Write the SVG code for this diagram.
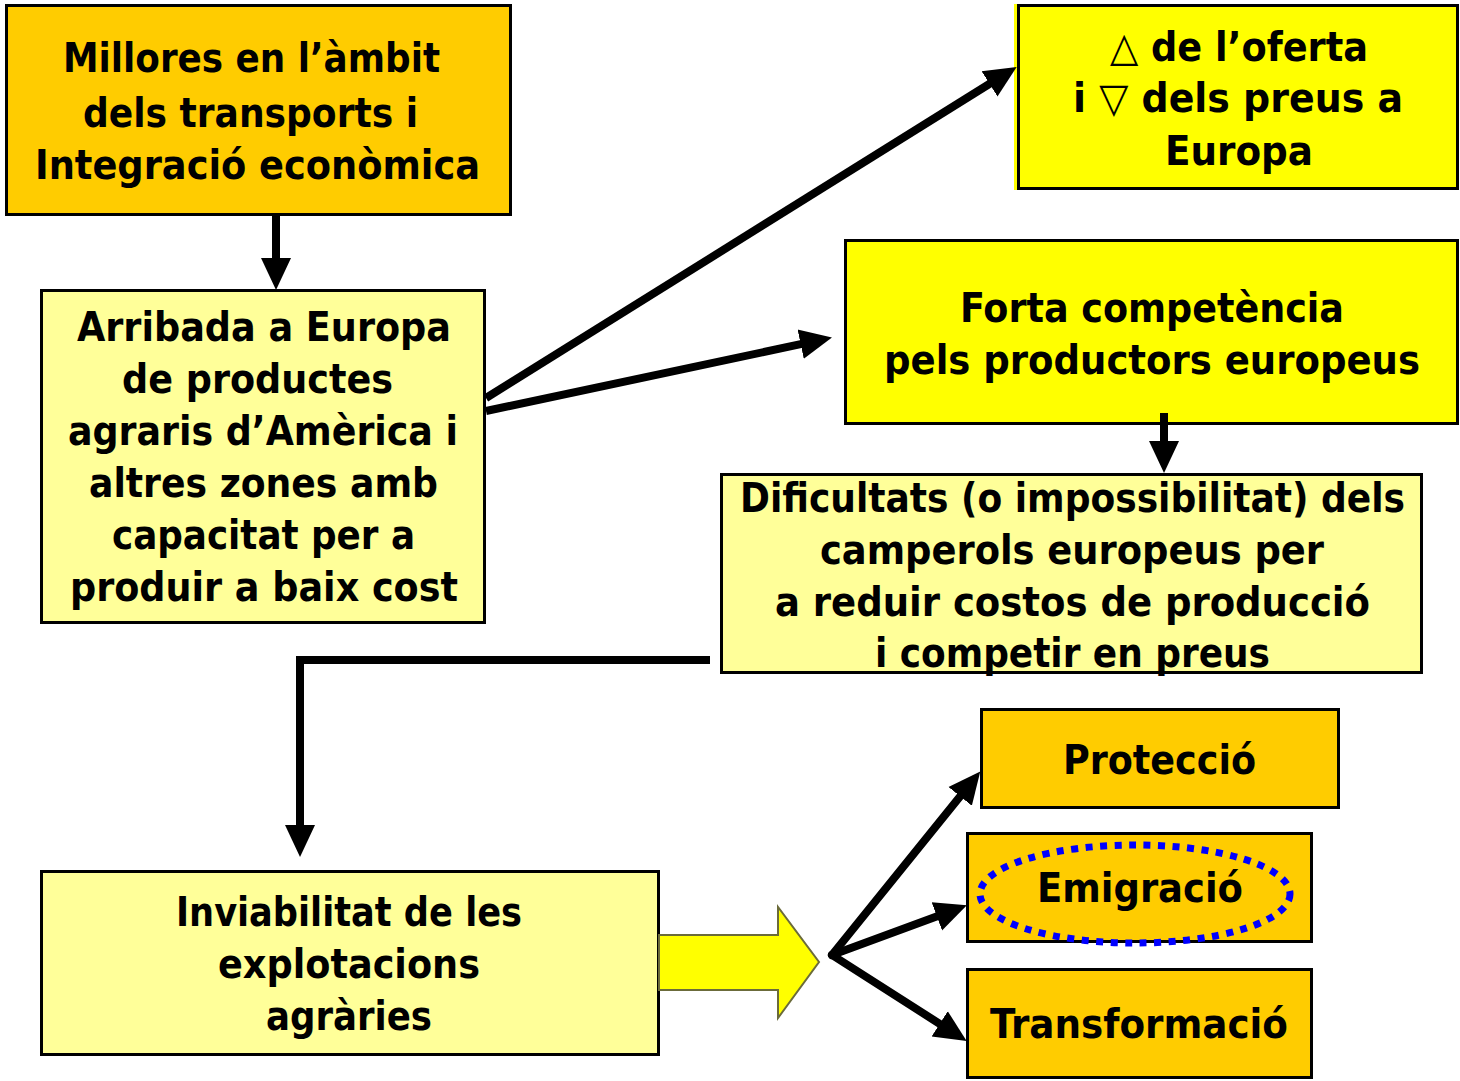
<svg xmlns="http://www.w3.org/2000/svg" width="1460" height="1081" viewBox="0 0 1460 1081">
<style>
.box{stroke:#000;stroke-width:3}
.orange{fill:#FFCC00}
.yellow{fill:#FFFF00}
.pale{fill:#FFFF99}
.t{font-family:"DejaVu Sans Condensed","DejaVu Sans","Verdana",sans-serif;font-stretch:condensed;font-weight:bold;font-size:41px;fill:#000;text-anchor:middle}
.conn{stroke:#000;fill:none;stroke-width:8}
</style>
<defs>
<marker id="ah" markerUnits="userSpaceOnUse" markerWidth="32" markerHeight="32" refX="12" refY="16" orient="auto" viewBox="0 0 32 32">
<path d="M0,1 L32,16 L0,31 z" fill="#000"/>
</marker>
</defs>
<rect width="1460" height="1081" fill="#fff"/>

<g id="n-millores">
<rect class="box orange" x="6.5" y="5.5" width="504" height="209"/>
<text class="t" x="251.5" y="72" textLength="377" lengthAdjust="spacingAndGlyphs">Millores en l’àmbit</text>
<text class="t" x="250.5" y="127" textLength="335" lengthAdjust="spacingAndGlyphs">dels transports i</text>
<text class="t" x="257.5" y="179" textLength="445" lengthAdjust="spacingAndGlyphs">Integració econòmica</text>
</g>

<g id="n-arribada">
<rect class="box pale" x="41.5" y="290.5" width="443" height="332"/>
<text class="t" x="264" y="341" textLength="374" lengthAdjust="spacingAndGlyphs">Arribada a Europa</text>
<text class="t" x="257.5" y="393" textLength="271" lengthAdjust="spacingAndGlyphs">de productes</text>
<text class="t" x="263" y="445" textLength="390" lengthAdjust="spacingAndGlyphs">agraris d’Amèrica i</text>
<text class="t" x="263.5" y="497" textLength="349" lengthAdjust="spacingAndGlyphs">altres zones amb</text>
<text class="t" x="263.5" y="549" textLength="303" lengthAdjust="spacingAndGlyphs">capacitat per a</text>
<text class="t" x="264" y="601" textLength="388" lengthAdjust="spacingAndGlyphs">produir a baix cost</text>
</g>

<g id="n-oferta">
<rect x="1014" y="4" width="4" height="186" fill="#FFFF00"/>
<rect class="box yellow" x="1018.5" y="5.5" width="439" height="183"/>
<text class="t" x="1239" y="61" textLength="258" lengthAdjust="spacingAndGlyphs">△ de l’oferta</text>
<text class="t" x="1238" y="112" textLength="330" lengthAdjust="spacingAndGlyphs">i ▽ dels preus a</text>
<text class="t" x="1239" y="165" textLength="148" lengthAdjust="spacingAndGlyphs">Europa</text>
</g>

<g id="n-competencia">
<rect class="box yellow" x="845.5" y="240.5" width="612" height="183"/>
<text class="t" x="1152" y="322" textLength="384" lengthAdjust="spacingAndGlyphs">Forta competència</text>
<text class="t" x="1152" y="374" textLength="536" lengthAdjust="spacingAndGlyphs">pels productors europeus</text>
</g>

<g id="n-dificultats">
<rect class="box pale" x="721.5" y="474.5" width="700" height="198"/>
<text class="t" x="1072.5" y="512" textLength="665" lengthAdjust="spacingAndGlyphs">Dificultats (o impossibilitat) dels</text>
<text class="t" x="1072" y="564" textLength="504" lengthAdjust="spacingAndGlyphs">camperols europeus per</text>
<text class="t" x="1072.5" y="616" textLength="595" lengthAdjust="spacingAndGlyphs">a reduir costos de producció</text>
<text class="t" x="1072.5" y="667" textLength="395" lengthAdjust="spacingAndGlyphs">i competir en preus</text>
</g>

<g id="n-inviabilitat">
<rect class="box pale" x="41.5" y="871.5" width="617" height="183"/>
<text class="t" x="349" y="926" textLength="346" lengthAdjust="spacingAndGlyphs">Inviabilitat de les</text>
<text class="t" x="349" y="978" textLength="262" lengthAdjust="spacingAndGlyphs">explotacions</text>
<text class="t" x="349" y="1030" textLength="166" lengthAdjust="spacingAndGlyphs">agràries</text>
</g>

<g id="n-proteccio">
<rect class="box orange" x="981.5" y="709.5" width="357" height="98"/>
<text class="t" x="1159.5" y="774" textLength="193" lengthAdjust="spacingAndGlyphs">Protecció</text>
</g>

<g id="n-emigracio">
<rect class="box orange" x="967.5" y="833.5" width="344" height="108"/>
<ellipse cx="1135" cy="894" rx="155" ry="49" fill="none" stroke="#0000FF" stroke-width="7" stroke-dasharray="7 7.5"/>
<text class="t" x="1140" y="902" textLength="206" lengthAdjust="spacingAndGlyphs">Emigració</text>
</g>

<g id="n-transformacio">
<rect class="box orange" x="967.5" y="969.5" width="344" height="108"/>
<text class="t" x="1139" y="1038" textLength="298" lengthAdjust="spacingAndGlyphs">Transformació</text>
</g>

<g id="connectors">
<line class="conn" x1="276" y1="215" x2="276" y2="270" stroke-width="9" marker-end="url(#ah)"/>
<line class="conn" x1="486" y1="398" x2="999.7" y2="77.5" stroke-width="7" marker-end="url(#ah)"/>
<line class="conn" x1="486" y1="411" x2="812.4" y2="341.7" stroke-width="7" marker-end="url(#ah)"/>
<line class="conn" x1="1164" y1="413" x2="1164" y2="453" stroke-width="9" marker-end="url(#ah)"/>
<path class="conn" d="M710,660 H300 V837" stroke-width="10" marker-end="url(#ah)"/>
<polygon points="659,935 778,935 778,907 819,962 778,1018 778,990 659,990" fill="#FFFF00" stroke="#6b6b3a" stroke-width="2"/>
<line class="conn" x1="832" y1="955" x2="967.7" y2="787" stroke-width="8" stroke-linecap="round" marker-end="url(#ah)"/>
<line class="conn" x1="832" y1="955" x2="948.1" y2="912.2" stroke-width="8" stroke-linecap="round" marker-end="url(#ah)"/>
<line class="conn" x1="832" y1="955" x2="949.8" y2="1030.3" stroke-width="8" stroke-linecap="round" marker-end="url(#ah)"/>
</g>
</svg>
